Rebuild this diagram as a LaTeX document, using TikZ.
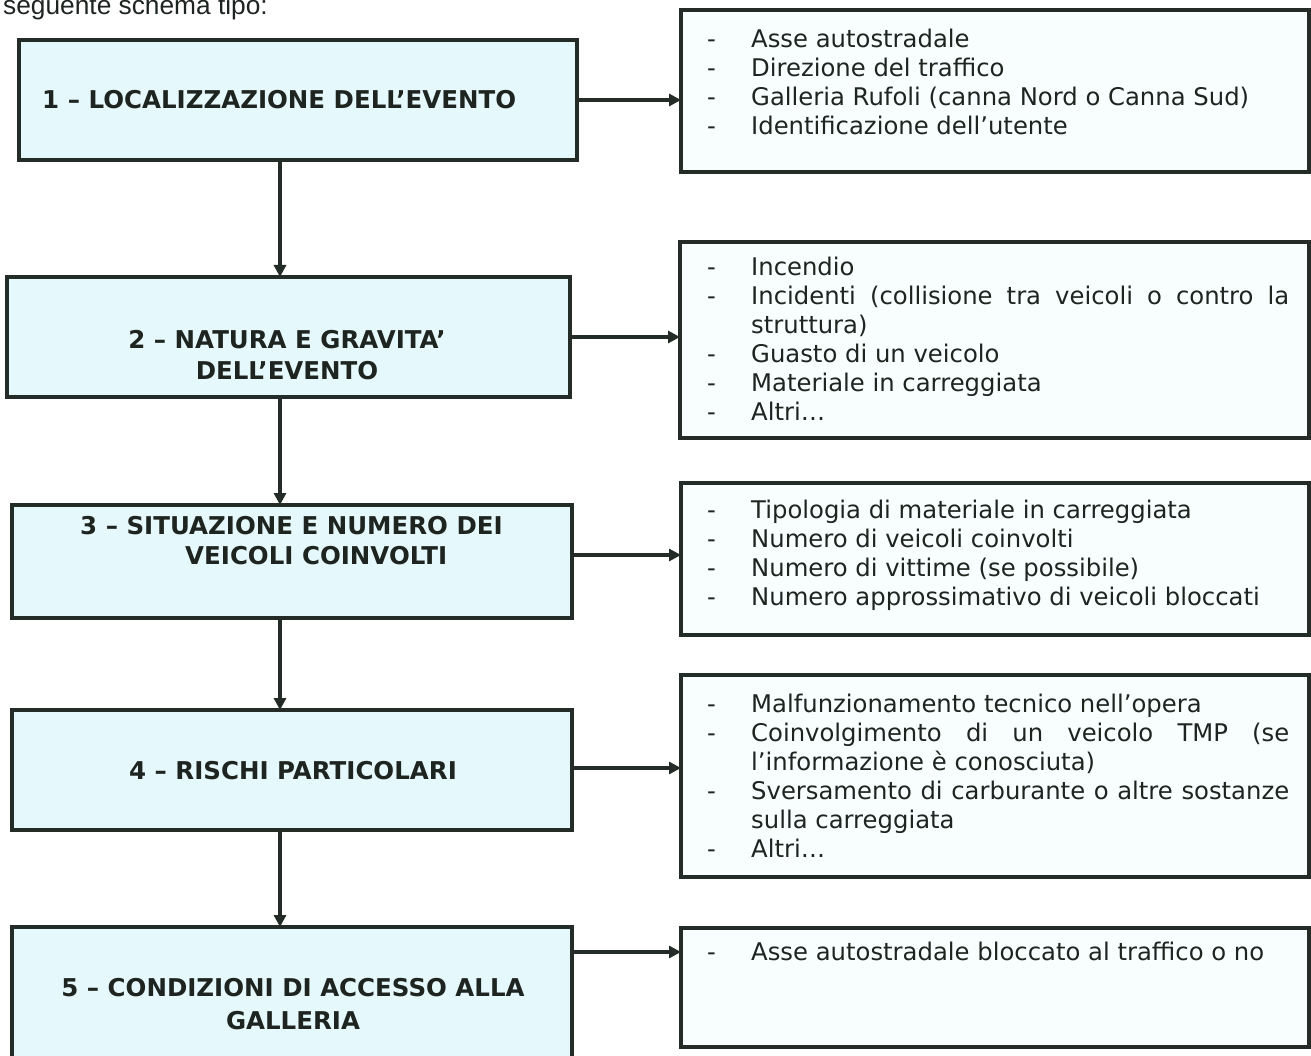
\documentclass[tikz,border=0pt]{standalone}
\usepackage{fontspec}
\setmainfont{DejaVu Sans}
\newfontfamily\hdrfont{Liberation Sans}
\usetikzlibrary{arrows.meta}
\definecolor{edge}{HTML}{232C27}
\definecolor{leftfill}{HTML}{E5F8FB}
\definecolor{rightfill}{HTML}{F8FDFD}
\definecolor{txt}{HTML}{1E2420}
\tikzset{
  leftbox/.style={draw=edge, line width=4pt, fill=leftfill},
  rightbox/.style={draw=edge, line width=3.6pt, fill=rightfill},
  conn/.style={draw=edge, line width=3.6pt, -{Triangle[length=12pt,width=12pt]}},
  titletext/.style={inner sep=0pt, text=txt, font=\fontsize{24.5}{31}\selectfont\bfseries, align=center},
  listtext/.style={inner sep=0pt, text=txt, anchor=north west, font=\fontsize{24.3}{29}\selectfont},
}
\newcommand\lst[1]{\begin{tabular}{@{}p{44pt}@{}l@{}}#1\end{tabular}}
\newcommand\jline[1]{\makebox[538pt][s]{#1}}
\begin{document}
\begin{tikzpicture}[x=1pt,y=-1pt]
\useasboundingbox (0,0) rectangle (1311,1056);
\clip (0,0) rectangle (1311,1056);
% header
\node[anchor=base west, inner sep=0pt, font=\hdrfont\fontsize{26.3}{30}\selectfont, text=txt] (hdr) at (3,15) {seguente schema tipo:};
% left boxes
\path[leftbox] (19,40) rectangle (577,160);
\coordinate (L1t) at (280,40); \coordinate (L1b) at (280,160); \coordinate (L1r) at (577,100);
\path[leftbox] (7,277) rectangle (570,397);
\coordinate (L2t) at (280,277); \coordinate (L2b) at (280,397); \coordinate (L2r) at (570,337);
\path[leftbox] (12,505) rectangle (572,618);
\coordinate (L3t) at (280,505); \coordinate (L3b) at (280,618); \coordinate (L3r) at (572,555);
\path[leftbox] (12,710) rectangle (572,830);
\coordinate (L4t) at (280,710); \coordinate (L4b) at (280,830); \coordinate (L4r) at (572,768);
\path[leftbox] (12,927) rectangle (572,1075);
\coordinate (L5t) at (280,927); \coordinate (L5r) at (572,952);
% right boxes
\path[rightbox] (681,10) rectangle (1309,172);
\coordinate (R1l) at (681,100);
\path[rightbox] (680,242) rectangle (1309,438);
\coordinate (R2l) at (680,337);
\path[rightbox] (681,483) rectangle (1309,635);
\coordinate (R3l) at (681,555);
\path[rightbox] (681,675) rectangle (1309,877);
\coordinate (R4l) at (681,768);
\path[rightbox] (681,928) rectangle (1309,1047);
\coordinate (R5l) at (681,952);
% titles
\node[titletext, anchor=west] (t1) at (42,100) {1 – LOCALIZZAZIONE DELL’EVENTO};
\node[titletext] (t2) at (287,355) {2 – NATURA E GRAVITA’\\DELL’EVENTO};
\node[titletext, anchor=west] (t3a) at (80,526) {3 – SITUAZIONE E NUMERO DEI};
\node[titletext, anchor=west] (t3b) at (185,556) {VEICOLI COINVOLTI};
\node[titletext] (t4) at (293,771) {4 – RISCHI PARTICOLARI};
\node[titletext, font=\fontsize{24.5}{33}\selectfont\bfseries] (t5) at (293,1004) {5 – CONDIZIONI DI ACCESSO ALLA\\GALLERIA};
% lists
\node[listtext] (r1) at (707,27) {\lst{- & Asse autostradale\\ - & Direzione del traffico\\ - & Galleria Rufoli (canna Nord o Canna Sud)\\ - & Identificazione dell’utente}};
\node[listtext] (r2) at (707,255) {\lst{- & Incendio\\ - & \jline{Incidenti (collisione tra veicoli o contro la}\\ & struttura)\\ - & Guasto di un veicolo\\ - & Materiale in carreggiata\\ - & Altri…}};
\node[listtext] (r3) at (707,498) {\lst{- & Tipologia di materiale in carreggiata\\ - & Numero di veicoli coinvolti\\ - & Numero di vittime (se possibile)\\ - & Numero approssimativo di veicoli bloccati}};
\node[listtext] (r4) at (707,692) {\lst{- & Malfunzionamento tecnico nell’opera\\ - & \jline{Coinvolgimento di un veicolo TMP (se}\\ & l’informazione è conosciuta)\\ - & \jline{Sversamento di carburante o altre sostanze}\\ & sulla carreggiata\\ - & Altri…}};
\node[listtext] (r5) at (707,940) {\lst{- & Asse autostradale bloccato al traffico o no}};
% connectors
\draw[conn] (L1b) -- (L2t);
\draw[conn] (L2b) -- (L3t);
\draw[conn] (L3b) -- (L4t);
\draw[conn] (L4b) -- (L5t);
\draw[conn] (L1r) -- (R1l);
\draw[conn] (L2r) -- (R2l);
\draw[conn] (L3r) -- (R3l);
\draw[conn] (L4r) -- (R4l);
\draw[conn] (L5r) -- (R5l);
\end{tikzpicture}
\end{document}
